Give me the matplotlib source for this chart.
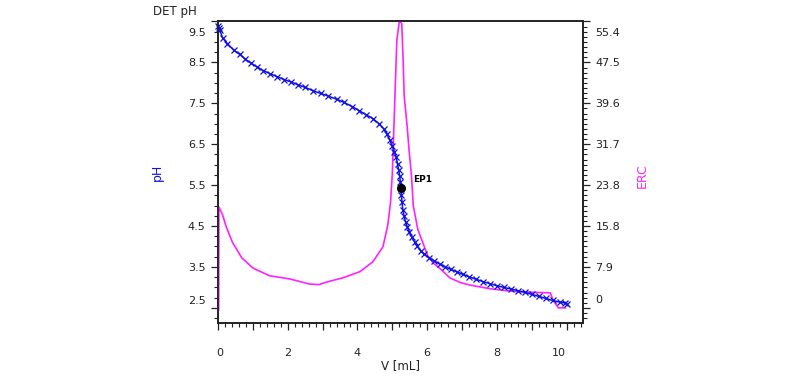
"""Titration curve (DET pH) with ERC on a second axis."""

import matplotlib
matplotlib.use("Agg")
import matplotlib.pyplot as plt
from matplotlib.ticker import FixedLocator, MultipleLocator
from matplotlib.transforms import ScaledTranslation

# pH curve: volume (mL) and measured pH
ph_volume = [0.00, 0.02, 0.05, 0.13, 0.27, 0.45, 0.62, 0.78, 0.95, 1.12, 1.30,
             1.50, 1.70, 1.90, 2.10, 2.30, 2.50, 2.72, 2.95, 3.15, 3.40, 3.62,
             3.85, 4.05, 4.25, 4.45, 4.62, 4.75, 4.85, 4.93, 5.00, 5.06, 5.11,
             5.15, 5.18, 5.21, 5.23, 5.245, 5.26, 5.28, 5.30, 5.34, 5.38, 5.43,
             5.49, 5.56, 5.64, 5.72, 5.81, 5.92, 6.05, 6.20, 6.36, 6.52, 6.68,
             6.85, 7.02, 7.20, 7.40, 7.60, 7.80, 8.00, 8.20, 8.40, 8.60, 8.80,
             9.00, 9.20, 9.40, 9.60, 9.80, 9.95, 10.00]
ph_values = [9.40, 9.35, 9.30, 9.10, 8.96, 8.80, 8.70, 8.58, 8.48, 8.39, 8.30,
             8.22, 8.15, 8.08, 8.02, 7.95, 7.89, 7.81, 7.74, 7.68, 7.60, 7.52,
             7.42, 7.32, 7.22, 7.12, 7.00, 6.88, 6.74, 6.60, 6.45, 6.32, 6.18,
             6.02, 5.88, 5.72, 5.58, 5.43, 5.25, 5.08, 4.90, 4.74, 4.60, 4.48,
             4.35, 4.22, 4.11, 4.00, 3.90, 3.81, 3.73, 3.65, 3.57, 3.50, 3.44,
             3.38, 3.32, 3.26, 3.20, 3.14, 3.09, 3.04, 3.00, 2.96, 2.92, 2.88,
             2.83, 2.78, 2.73, 2.68, 2.64, 2.62, 2.60]

# ERC curve
erc_volume = [0.02, 0.025, 0.04, 0.13, 0.24, 0.42, 0.68, 1.00, 1.48, 2.05,
              2.63, 2.90, 3.12, 3.58, 4.07, 4.44, 4.73, 4.87, 4.95, 5.00, 5.03,
              5.08, 5.13, 5.20, 5.27, 5.31, 5.34, 5.42, 5.48, 5.55, 5.60, 5.73,
              5.88, 6.02, 6.20, 6.37, 6.65, 6.95, 7.23, 7.80, 8.29, 8.66, 9.10,
              9.53, 9.61, 9.76, 9.96]
erc_values = [-0.4, 19.5, 19.3, 18.0, 15.6, 12.6, 9.7, 7.7, 6.2, 5.6,
              4.6, 4.5, 5.0, 5.8, 7.0, 8.9, 11.8, 16.0, 20.5, 26.0, 32.0,
              42.0, 51.8, 55.4, 55.0, 48.0, 41.0, 35.5, 30.5, 25.5, 19.8, 15.2,
              12.5, 10.0, 8.5, 7.6, 5.8, 4.9, 4.4, 3.7, 3.3, 3.1, 3.0,
              2.9, 1.5, 0.0, 0.0]

# endpoint
ep_volume = 5.245
ep_ph = 5.43

ph_ticks = [2.5, 3.5, 4.5, 5.5, 6.5, 7.5, 8.5, 9.5]
erc_tick_labels = ["0", "7.9", "15.8", "23.8", "31.7", "39.6", "47.5", "55.4"]
x_ticks = list(range(0, 11))
x_tick_labels = ["0", "", "2", "", "4", "", "6", "", "8", "", "10"]

BLUE = "#1010e0"
MAGENTA = "#ff22ff"
DARK = "#222222"

plt.rcParams["font.family"] = ["DejaVu Sans"]

fig = plt.figure(figsize=(8.0, 3.79), dpi=100, facecolor="white")
ax = fig.add_axes([0.2725, 0.1478, 0.4563, 0.7955])
ax2 = ax.twinx()

ph_lo, ph_hi = 2.13, 9.5
erc_step = 55.4 / 7
ax.set_ylim(ph_lo, ph_hi)
ax2.set_ylim((ph_lo - 2.5) * erc_step, (ph_hi - 2.5) * erc_step)
ax.set_xlim(0, 10.47)

# pink under blue
ax.set_zorder(ax2.get_zorder() + 1)
ax.patch.set_visible(False)

ax2.plot(erc_volume, erc_values, color=MAGENTA, lw=1.2, clip_on=False,
         zorder=5)
ax.plot(ph_volume, ph_values, color=BLUE, lw=1.1, marker="x", ms=5,
        mew=0.9, clip_on=False)
ax.plot([ep_volume], [ep_ph], "o", color="black", ms=5.5)
ax.annotate("EP1", (ep_volume, ep_ph), xytext=(9, 4), textcoords="offset points",
            fontsize=6.5, color="black", fontweight="bold")

# axes styling
for a in (ax, ax2):
    for sp in a.spines.values():
        sp.set_color(DARK)
        sp.set_linewidth(1.2)

ax.yaxis.set_major_locator(FixedLocator(ph_ticks))
ax.yaxis.set_minor_locator(MultipleLocator(0.25))
ax.set_yticklabels([f"{v:.1f}" for v in ph_ticks])
ax.xaxis.set_major_locator(FixedLocator(x_ticks))
ax.xaxis.set_minor_locator(MultipleLocator(0.2))
ax.set_xticklabels(x_tick_labels)

ax2.yaxis.set_major_locator(FixedLocator([i * erc_step for i in range(8)]))
ax2.yaxis.set_minor_locator(MultipleLocator(erc_step / 8))
ax2.set_yticklabels(erc_tick_labels)

ax.tick_params(axis="y", which="major", length=5, width=0.9, colors=DARK,
               labelsize=8, pad=4)
ax.tick_params(axis="y", which="minor", length=3, width=0.8, colors=DARK)
ax.tick_params(axis="x", which="major", length=5, width=0.9, colors=DARK,
               labelsize=8, pad=13)
ax.tick_params(axis="x", which="minor", length=3, width=0.8, colors=DARK)
ax2.tick_params(axis="y", which="major", length=5, width=0.9, colors=DARK,
                labelsize=8, pad=4)
ax2.tick_params(axis="y", which="minor", length=3, width=0.8, colors=DARK)

# end labels are pushed inward like in the source software
def shift(label, dx, dy):
    label.set_transform(label.get_transform()
                        + ScaledTranslation(dx, dy, fig.dpi_scale_trans))

ylabels = ax.get_yticklabels()
shift(ylabels[0], 0, 0.08)
shift(ylabels[-1], 0, -0.11)
rlabels = ax2.get_yticklabels()
shift(rlabels[0], 0, 0.09)
shift(rlabels[-1], 0, -0.105)
xlabels = ax.get_xticklabels()
shift(xlabels[-1], -0.08, 0)
shift(xlabels[0], 0.02, 0)

ax.set_xlabel("V [mL]", fontsize=8.5, color=DARK, labelpad=1)
fig.text(157 / 800, 1 - 172 / 379, "pH", rotation=90, color=BLUE, fontsize=9,
         ha="center", va="center")
fig.text(642 / 800, 1 - 176 / 379, "ERC", rotation=90, color=MAGENTA,
         fontsize=9, ha="center", va="center")
fig.text(197 / 800, 1 - 12 / 379, "DET pH", color=DARK, fontsize=8.5,
         ha="right", va="center")

fig.savefig("out.png", dpi=100, facecolor="white")
